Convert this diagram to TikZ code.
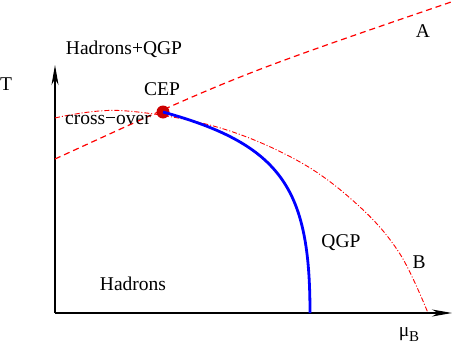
\documentclass[tikz,border=0pt]{standalone}
\usepackage{fontspec}
\setmainfont{Liberation Serif}
\usetikzlibrary{arrows.meta}
\begin{document}
\begin{tikzpicture}[x=1pt,y=-1pt,
		lbl/.style={anchor=base,inner sep=0pt,font=\fontsize{19.5}{23}\selectfont},
		axis/.style={line width=1.1pt,-{Stealth[length=20pt,width=7pt,inset=6pt]}},
		crit/.style={circle,fill=red!80!black,minimum size=13pt,inner sep=0pt},
		dashline/.style={red,line width=1.2pt,dash pattern=on 6pt off 4pt},
		dotline/.style={red,line width=0.9pt,dash pattern=on 5pt off 2pt on 1pt off 2pt},
		trans/.style={blue,line width=2.8pt}]
	\useasboundingbox (0,0) rectangle (458,343);
	\coordinate (o) at (55,313);
	\coordinate (ttop) at (55,65);
	\coordinate (mutop) at (452,313);
	\coordinate (a0) at (55,159);
	\coordinate (a1) at (454,1);
	\coordinate (qgp0) at (310,313);
	\draw[axis] (o) -- (ttop);
	\draw[axis] (o) -- (mutop);
	\draw[dashline] (a0) .. controls (238,75) .. (a1);
	\draw[dotline] plot[smooth,tension=0.6] coordinates {(55,118) (120,110.5) (217,127)
		(300,162) (360,207) (400,254) (428,313)};
	\node [crit] (cep) at (163,112) {};
	\draw[trans] (cep.center) .. controls (283,145) and (310,190) .. (qgp0);
	\node [lbl] (tlabel) at (6,90) {T};
	\node [lbl] (hq) at (124,54) {Hadrons+QGP};
	\node [lbl] (ceplabel) at (162,95) {CEP};
	\node [lbl] (cross) at (108,124.5) {cross−over};
	\node [lbl] (alabel) at (423,37) {A};
	\node [lbl] (had) at (133,290) {Hadrons};
	\node [lbl] (qgp) at (341,247) {QGP};
	\node [lbl] (blabel) at (419,268) {B};
	\node [lbl] (mub) at (409,336) {μ\raisebox{-5pt}{\fontsize{15}{18}\selectfont B}};
\end{tikzpicture}
\end{document}
